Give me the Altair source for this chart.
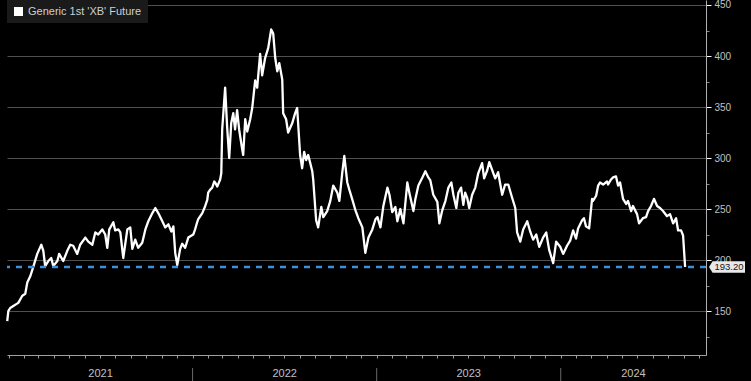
import altair as alt
import pandas as pd

series_name = "Generic 1st 'XB' Future"

# time positions as decimal years
year_pos = [
    2020.993, 2020.999, 2021.009, 2021.026, 2021.053, 2021.075, 2021.091, 2021.102, 2021.118, 2021.134,
    2021.156, 2021.178, 2021.189, 2021.199, 2021.216, 2021.232, 2021.243, 2021.265, 2021.275, 2021.297,
    2021.319, 2021.335, 2021.351, 2021.373, 2021.389, 2021.417, 2021.433, 2021.455, 2021.471, 2021.487,
    2021.509, 2021.525, 2021.536, 2021.547, 2021.569, 2021.579, 2021.596, 2021.607, 2021.623, 2021.645,
    2021.661, 2021.672, 2021.688, 2021.704, 2021.726, 2021.743, 2021.759, 2021.781, 2021.797, 2021.813,
    2021.835, 2021.851, 2021.868, 2021.884, 2021.895, 2021.905, 2021.916, 2021.932, 2021.943, 2021.959,
    2021.976, 2022.003, 2022.013, 2022.024, 2022.030, 2022.052, 2022.068, 2022.079, 2022.084, 2022.095,
    2022.106, 2022.117, 2022.122, 2022.133, 2022.149, 2022.155, 2022.160, 2022.176, 2022.187, 2022.198,
    2022.209, 2022.220, 2022.230, 2022.241, 2022.252, 2022.269, 2022.274, 2022.285, 2022.296, 2022.312,
    2022.323, 2022.339, 2022.350, 2022.366, 2022.377, 2022.393, 2022.410, 2022.426, 2022.437, 2022.448,
    2022.459, 2022.470, 2022.486, 2022.491, 2022.507, 2022.518, 2022.540, 2022.556, 2022.567, 2022.583,
    2022.594, 2022.605, 2022.616, 2022.627, 2022.638, 2022.649, 2022.654, 2022.670, 2022.681, 2022.698,
    2022.709, 2022.730, 2022.747, 2022.763, 2022.785, 2022.796, 2022.812, 2022.823, 2022.839, 2022.850,
    2022.867, 2022.883, 2022.899, 2022.921, 2022.937, 2022.954, 2022.975, 2022.992, 2023.003, 2023.019,
    2023.035, 2023.057, 2023.068, 2023.083, 2023.100, 2023.111, 2023.127, 2023.144, 2023.165, 2023.176,
    2023.198, 2023.208, 2023.225, 2023.247, 2023.263, 2023.279, 2023.290, 2023.306, 2023.328, 2023.339,
    2023.355, 2023.372, 2023.388, 2023.404, 2023.415, 2023.431, 2023.442, 2023.457, 2023.469, 2023.479,
    2023.490, 2023.501, 2023.517, 2023.534, 2023.550, 2023.571, 2023.582, 2023.599, 2023.610, 2023.626,
    2023.642, 2023.658, 2023.680, 2023.696, 2023.713, 2023.734, 2023.751, 2023.761, 2023.778, 2023.794,
    2023.816, 2023.832, 2023.848, 2023.865, 2023.881, 2023.902, 2023.919, 2023.935, 2023.957, 2023.973,
    2023.995, 2024.011, 2024.032, 2024.049, 2024.065, 2024.081, 2024.092, 2024.114, 2024.124, 2024.135,
    2024.152, 2024.168, 2024.173, 2024.190, 2024.201, 2024.211, 2024.228, 2024.249, 2024.255, 2024.271,
    2024.282, 2024.298, 2024.309, 2024.320, 2024.336, 2024.353, 2024.363, 2024.380, 2024.390, 2024.412,
    2024.423, 2024.444, 2024.461, 2024.472, 2024.488, 2024.504, 2024.521, 2024.537, 2024.553, 2024.575,
    2024.591, 2024.608, 2024.624, 2024.635, 2024.651, 2024.662, 2024.673,
]

prices = [
    140, 150, 153, 155, 158, 165, 167, 178, 184, 193,
    206, 215, 209, 194, 199, 202, 194, 199, 206, 199,
    209, 215, 214, 206, 215, 222, 218, 215, 227, 225,
    230, 225, 212, 230, 237, 229, 230, 227, 202, 230,
    232, 211, 220, 212, 217, 230, 238, 246, 251, 246,
    238, 232, 235, 228, 233, 207, 195, 211, 216, 212,
    222, 225, 230, 237, 240, 246, 253, 259, 266, 269,
    271, 277, 276, 272, 279, 285, 328, 369, 330, 300,
    334, 344, 328, 347, 328, 308, 303, 338, 326, 338,
    349, 376, 369, 402, 381, 398, 408, 426, 422, 398,
    385, 393, 377, 344, 338, 325, 334, 344, 349, 303,
    290, 306, 298, 303, 295, 287, 279, 239, 232, 252,
    242, 248, 258, 273, 266, 258, 286, 302, 276, 269,
    259, 249, 241, 232, 207, 222, 230, 240, 242, 232,
    253, 271, 264, 247, 252, 238, 250, 236, 276, 266,
    248, 259, 273, 281, 287, 281, 278, 264, 257, 236,
    249, 258, 271, 276, 264, 251, 266, 271, 254, 266,
    261, 251, 264, 271, 285, 295, 280, 288, 296, 288,
    280, 286, 264, 274, 274, 261, 251, 227, 218, 230,
    238, 228, 220, 225, 213, 222, 227, 210, 197, 218,
    213, 206, 214, 219, 229, 221, 231, 239, 241, 233,
    231, 260, 258, 263, 273, 276, 274, 277, 274, 279,
    281, 282, 273, 276, 260, 255, 258, 248, 253, 245,
    236, 241, 242, 248, 253, 260, 253, 251, 248, 243,
    245, 236, 241, 229, 229, 224, 193.2,
]

year_labels = ["2021", "2022", "2023", "2024"]
year_starts = ["2021-01-01", "2022-01-01", "2023-01-01", "2024-01-01"]
x_start = "2020-12-29"
x_end = "2024-10-15"
y_ticks = [125, 150, 175, 200, 225, 250, 275, 300, 325, 350, 375, 400, 425, 450]
y_min, y_max = 106.9, 454.9

# ---- tables ----
base_day = pd.Timestamp("2021-01-01")
dates = [base_day + pd.to_timedelta(round((yp - 2021) * 365.25 * 24), unit="h") for yp in year_pos]
df = pd.DataFrame({"date": dates, "price": prices, "series": series_name})

last_value = prices[-1]
df_last = pd.DataFrame({"level": [last_value], "label": [f"{last_value:.2f}"]})

starts = [pd.Timestamp(s) for s in year_starts]
ends = starts[1:] + [pd.Timestamp(x_end)]
mids = [a + (b - a) / 2 for a, b in zip(starts, ends)]
df_years = pd.DataFrame({"date": mids, "year": year_labels})
df_sep = pd.DataFrame({"date": starts[1:]})

xs, xe = pd.Timestamp(x_start), pd.Timestamp(x_end)
xscale = alt.Scale(domain=[alt.DateTime(year=xs.year, month=xs.month, date=xs.day),
                           alt.DateTime(year=xe.year, month=xe.month, date=xe.day)])
yscale = alt.Scale(domain=[y_min, y_max], nice=False, zero=False)

FONT = "Liberation Sans"
major = "datum.value % 50 === 0"

x_axis = alt.Axis(
    orient="bottom", labels=False, grid=False, title=None,
    tickCount={"interval": "month", "step": 1},
    domainColor="#a0a0a0", tickColor="#a0a0a0", tickSize=3,
)
y_axis = alt.Axis(
    orient="right", values=y_ticks, title=None,
    labelExpr=f"{major} ? datum.label : ''", labelOverlap=False,
    labelColor="#c0c0c0", labelFont=FONT, labelFontSize=10, labelPadding=3,
    grid=True, gridColor="#505050", gridWidth=1.2,
    gridOpacity={"condition": {"test": major, "value": 1}, "value": 0},
    tickSize={"condition": {"test": major, "value": 5}, "value": 3},
    tickColor={"condition": {"test": major, "value": "#ffffff"}, "value": "#8a8a8a"},
    domainColor="#b0b0b0",
)

years_text = alt.Chart(df_years).mark_text(
    color="#c0c0c0", font=FONT, fontSize=11, baseline="middle", align="center"
).encode(
    x=alt.X("date:T", scale=xscale, axis=x_axis),
    y=alt.value(374),
    text="year:N",
)

separators = alt.Chart(df_sep).mark_rule(color="#6a6a6a", strokeWidth=1).encode(
    x=alt.X("date:T", scale=xscale, axis=x_axis),
    y=alt.value(368),
    y2=alt.value(381),
)

line = alt.Chart(df).mark_line(strokeWidth=2.3, strokeJoin="round").encode(
    x=alt.X("date:T", scale=xscale, axis=x_axis),
    y=alt.Y("price:Q", scale=yscale, axis=y_axis),
    color=alt.Color(
        "series:N",
        scale=alt.Scale(range=["#ffffff"]),
        legend=alt.Legend(
            title=None, orient="none", legendX=0, legendY=0,
            fillColor="#1a1a1a", padding=6, cornerRadius=0,
            symbolType="square", symbolSize=81, symbolFillColor="#ffffff",
            symbolStrokeColor="#ffffff", symbolStrokeWidth=0,
            labelColor="#d0d0d0", labelFont=FONT, labelFontSize=11, labelOffset=4,
        ),
    ),
)

level_rule = alt.Chart(df_last).mark_rule(
    color="#3f8ddb", strokeDash=[6, 6], strokeWidth=2.5
).encode(y=alt.Y("level:Q", scale=yscale, axis=y_axis))

tag_shape = "M -1 0 L -0.8 -0.32 L 1 -0.32 L 1 0.32 L -0.8 0.32 Z"
tag = alt.Chart(df_last).mark_point(
    shape=tag_shape, size=1296, filled=True, fill="#e8e8e8", strokeWidth=0, opacity=1
).encode(x=alt.value(720), y=alt.Y("level:Q", scale=yscale, axis=y_axis))

tag_text = alt.Chart(df_last).mark_text(
    font=FONT, fontSize=9.5, color="#151515", align="center", baseline="middle", dx=2
).encode(x=alt.value(720), y=alt.Y("level:Q", scale=yscale, axis=y_axis), text="label:N")

chart = alt.layer(line, separators, years_text, level_rule, tag, tag_text).properties(
    width=699, height=355,
    autosize=alt.AutoSizeParams(type="none"),
    padding={"left": 7, "top": 0, "right": 45, "bottom": 26},
    background="#000000",
).configure_view(stroke=None)

chart.save("out.html", embed_options={"renderer": "svg", "actions": False})
